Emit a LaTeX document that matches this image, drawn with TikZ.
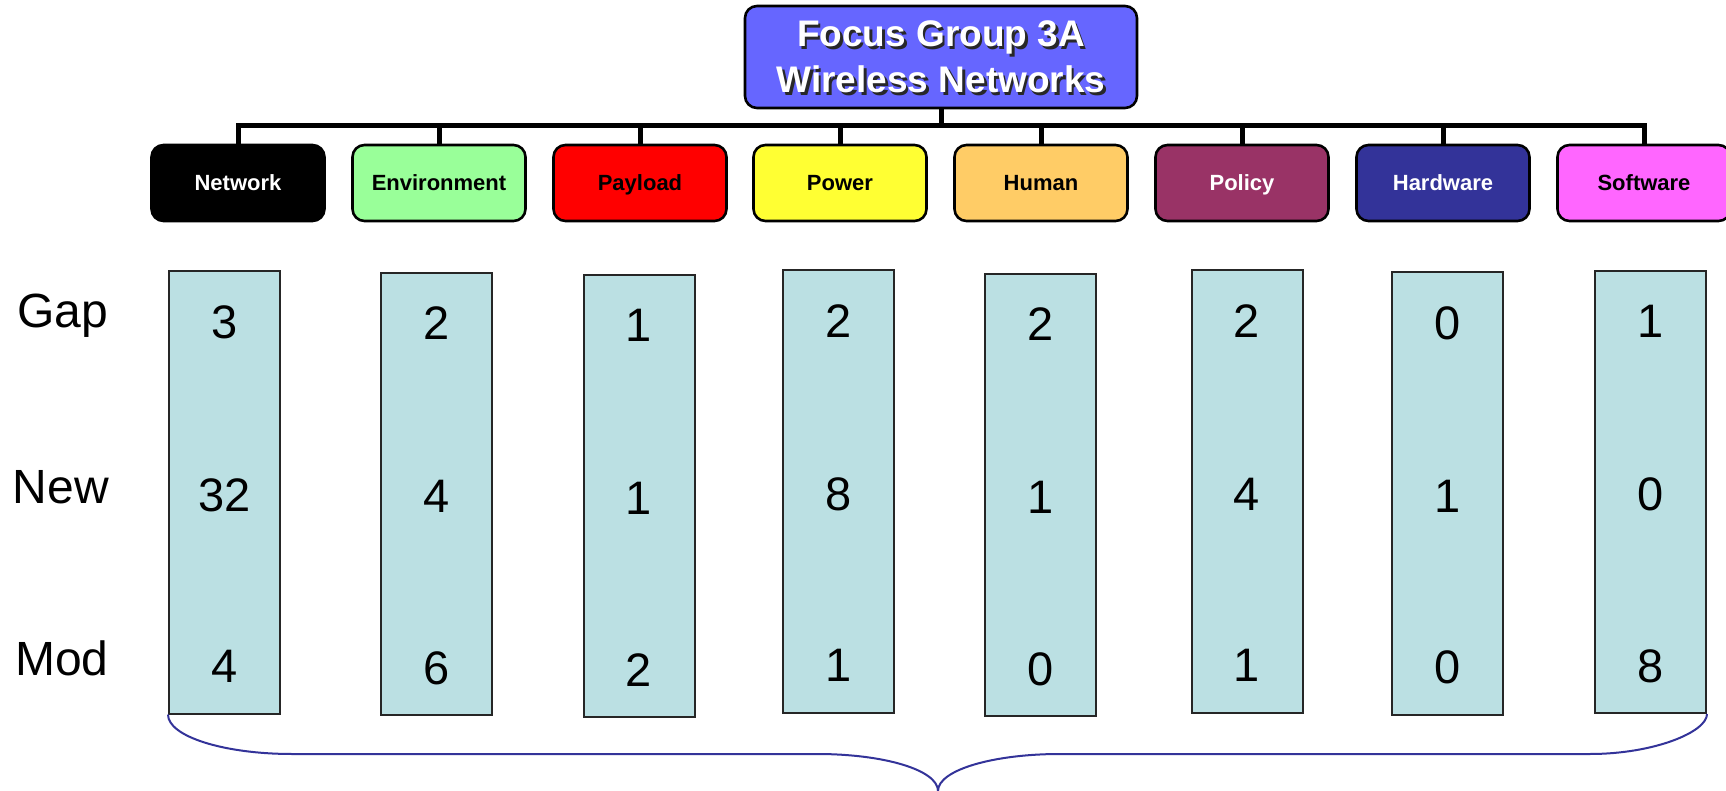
\documentclass[tikz,border=0pt]{standalone}
\usepackage{fontspec}
\setmainfont{Liberation Sans}
\usetikzlibrary{calc}
\definecolor{topblue}{RGB}{102,102,255}
\definecolor{envgreen}{RGB}{153,255,153}
\definecolor{payred}{RGB}{255,0,0}
\definecolor{powyellow}{RGB}{255,255,51}
\definecolor{humorange}{RGB}{255,204,102}
\definecolor{polplum}{RGB}{153,51,102}
\definecolor{hwblue}{RGB}{51,51,153}
\definecolor{swpink}{RGB}{255,102,255}
\definecolor{colfill}{RGB}{187,224,227}
\definecolor{braceblue}{RGB}{51,51,153}
\definecolor{shadowgray}{RGB}{40,40,40}
\begin{document}
\begin{tikzpicture}[x=0.5pt,y=-0.5pt,
  topbox/.style={draw=black, line width=1.3pt, fill=topblue, rounded corners=6pt,
    minimum width=196pt, minimum height=51pt, inner sep=0pt},
  titletext/.style={font=\fontsize{18.5}{22}\selectfont\bfseries, inner sep=0pt, anchor=base},
  cat/.style={draw=black, line width=1.3pt, rounded corners=6pt, minimum width=86.5pt,
    minimum height=38pt, inner sep=0pt, text height=7.9pt, text depth=0pt,
    font=\fontsize{11}{13}\selectfont\bfseries},
  col/.style={draw=black!85, line width=1pt, fill=colfill, inner sep=0pt,
    minimum width=55.5pt, minimum height=221pt},
  num/.style={font=\fontsize{23.5}{28}\selectfont, inner sep=0pt},
  rowlab/.style={font=\fontsize{24}{28}\selectfont, inner sep=0pt, anchor=base},
  link/.style={line width=2.5pt},
  bracestyle/.style={draw=braceblue, line width=1pt}]
\useasboundingbox (0,0) rectangle (1726,791);

% top box
\node[topbox] (top) at (941,57) {};
\node[titletext, text=shadowgray] (t1s) at (943.5,49.5) {Focus Group 3A};
\node[titletext, text=white] (t1) at (941,47) {Focus Group 3A};
\node[titletext, text=shadowgray] (t2s) at (943.5,95.5) {Wireless Networks};
\node[titletext, text=white] (t2) at (941,93) {Wireless Networks};

% category boxes
\foreach \i/\cx/\fc/\tc/\lab in {1/238/black/white/Network, 2/439/envgreen/black/Environment,
  3/640/payred/black/Payload, 4/840/powyellow/black/Power, 5/1041/humorange/black/Human,
  6/1242/polplum/white/Policy, 7/1443/hwblue/white/Hardware, 8/1644/swpink/black/Software}
  {\node[cat, fill=\fc, text=\tc] (k\i) at (\cx,183) {\lab};}

% connectors
\coordinate (bar) at (941,126);
\draw[link] (top.south) -- (top.south |- bar);
\draw[link, line cap=rect] (k1.north |- bar) -- (k8.north |- bar);
\foreach \i in {1,...,8} {\draw[link] (k\i.north |- bar) -- (k\i.north);}

% value columns
\foreach \i/\cx/\cy/\g/\n/\m in {1/224.5/492.5/3/32/4, 2/436.5/494/2/4/6, 3/639/496/1/1/2,
  4/838.5/491.5/2/8/1, 5/1040.5/495/2/1/0, 6/1247/491.5/2/4/1, 7/1447.5/493.5/0/1/0,
  8/1650.5/492/1/0/8}
  {\node[col] (c\i) at (\cx,\cy) {};
   \node[num] (g\i) at ($(c\i.center)+(0,-170.5)$) {\g};
   \node[num] (n\i) at ($(c\i.center)+(0,2.5)$) {\n};
   \node[num] (m\i) at ($(c\i.center)+(0,174)$) {\m};}

% row labels
\node[rowlab] (gap) at (63,328) {Gap};
\node[rowlab] (new) at (61,503) {New};
\node[rowlab] (mod) at (62,675) {Mod};

% brace
\coordinate (tip) at (938,791);
\draw[bracestyle] (c1.south west) .. controls ($(c1.south west)+(0,22)$) and (224,754) .. (292,754)
  -- (817,754) .. controls (884,754) and (938,770) .. (tip)
  .. controls (938,770) and (993,754) .. (1060,754)
  -- (1590,754) .. controls (1654,754) and ($(c8.south east)+(0,18)$) .. (c8.south east);
\end{tikzpicture}
\end{document}
